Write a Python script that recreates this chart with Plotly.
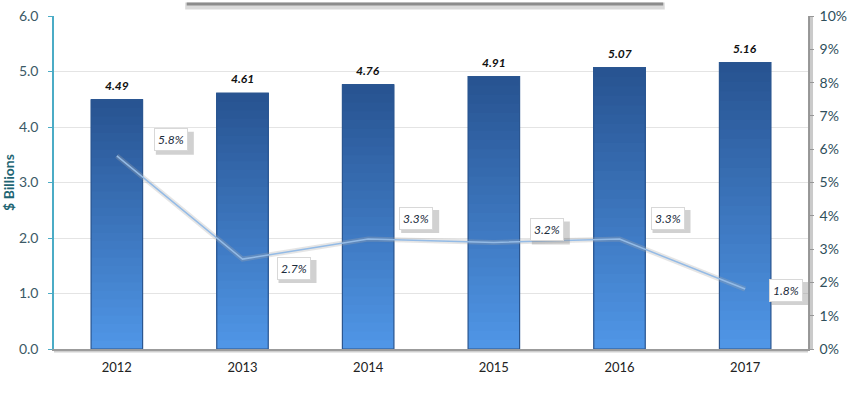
import plotly.graph_objects as go

years = ["2012", "2013", "2014", "2015", "2016", "2017"]
spend = [4.49, 4.61, 4.76, 4.91, 5.07, 5.16]
growth = [5.8, 2.7, 3.3, 3.2, 3.3, 1.8]
growth_labels = ["5.8%", "2.7%", "3.3%", "3.2%", "3.3%", "1.8%"]
spend_labels = ["4.49", "4.61", "4.76", "4.91", "5.07", "5.16"]
left_ticks = [0, 1, 2, 3, 4, 5, 6]
right_ticks = [0, 1, 2, 3, 4, 5, 6, 7, 8, 9, 10]
right_tick_text = ["0%", "1%", "2%", "3%", "4%", "5%", "6%", "7%", "8%", "9%", "10%"]

# label offsets (pixels) relative to each growth point
lab_dx = [54, 51, 48, 53, 48, 41]
lab_dy = [16, -9, 21, 13, 21, -1]

FONT = "Lato"
BW = 0.41
N = 30
top_c = (40, 84, 146)
bot_c = (80, 150, 230)
xs = list(range(len(years)))

fig = go.Figure()

# gradient bars: each slice spans from its base up to the bar top, drawn bottom-to-top
for k in range(N):
    t = k / (N - 1)
    c = tuple(int(bot_c[i] + (top_c[i] - bot_c[i]) * t) for i in range(3))
    fig.add_trace(go.Bar(
        x=xs, y=[v * (N - k) / N for v in spend], base=[v * k / N for v in spend],
        width=BW, marker=dict(color="rgb(%d,%d,%d)" % c, line=dict(width=0)),
        showlegend=False, hoverinfo="skip"))

# outline of bars
fig.add_trace(go.Bar(
    x=xs, y=spend, base=[0] * len(spend), width=BW,
    marker=dict(color="rgba(0,0,0,0)", line=dict(color="#2b5690", width=1.2)),
    showlegend=False, hoverinfo="skip"))

# growth line shadow + line
fig.add_trace(go.Scatter(
    x=xs, y=growth, yaxis="y2", mode="lines",
    line=dict(color="rgba(170,170,170,0.3)", width=5),
    showlegend=False, hoverinfo="skip"))
fig.add_trace(go.Scatter(
    x=xs, y=growth, yaxis="y2", mode="lines",
    line=dict(color="#94bbe6", width=1.5),
    showlegend=False))

ann = []
shapes = []
for xi, v, s in zip(xs, spend, spend_labels):
    ann.append(dict(x=xi, y=v, xref="x", yref="y", text="<b><i>%s</i></b>" % s,
                    showarrow=False, yanchor="bottom", yshift=5,
                    font=dict(family=FONT, size=12, color="#111111")))
for xi, g, s, dx, dy in zip(xs, growth, growth_labels, lab_dx, lab_dy):
    # drop shadow behind each label box
    shapes.append(dict(type="rect", xref="x", yref="y2",
                       xsizemode="pixel", ysizemode="pixel",
                       xanchor=xi, yanchor=g,
                       x0=dx - 15, x1=dx + 23, y0=dy - 15, y1=dy + 8,
                       fillcolor="rgba(140,140,140,0.4)", line=dict(width=0),
                       layer="above"))
    ann.append(dict(x=xi, y=g, xref="x", yref="y2", text="<i>%s</i>" % s,
                    showarrow=False, xshift=dx, yshift=dy,
                    bgcolor="white", bordercolor="#d8d8d8", borderwidth=1, borderpad=3,
                    font=dict(family=FONT, size=12, color="#1c2c3c")))

shapes += [
    dict(type="line", xref="paper", yref="paper", x0=0.174, x1=0.810, y0=1.030, y1=1.030,
         line=dict(color="rgba(150,150,150,0.35)", width=7)),
    dict(type="line", xref="paper", yref="paper", x0=0.176, x1=0.808, y0=1.036, y1=1.036,
         line=dict(color="#8c8c8c", width=3)),
    dict(type="line", xref="paper", yref="paper", x0=1.004, x1=1.004, y0=0, y1=1,
         line=dict(color="rgba(150,150,150,0.5)", width=4)),
    dict(type="line", xref="paper", yref="paper", x0=0, x1=1, y0=-0.006, y1=-0.006,
         line=dict(color="rgba(160,160,160,0.5)", width=3)),
]

fig.update_layout(
    width=849, height=399,
    margin=dict(l=54, r=41, t=16, b=50, autoexpand=False),
    paper_bgcolor="white", plot_bgcolor="white",
    barmode="overlay",
    font=dict(family=FONT),
    xaxis=dict(range=[-0.5, 5.5], tickvals=xs, ticktext=years, automargin=False,
               showline=True, linecolor="#9a9a9a", linewidth=1.5,
               ticks="", ticklabelstandoff=6,
               tickfont=dict(family=FONT, size=13, color="#222222"),
               showgrid=False, zeroline=False),
    yaxis=dict(range=[0, 6], tickvals=left_ticks, tickformat=".1f", automargin=False,
               showline=True, linecolor="#4bacc6", linewidth=1.5,
               ticks="outside", ticklen=4, tickcolor="#4bacc6",
               ticklabelstandoff=7, ticklabeloverflow="allow",
               gridcolor="#e4e4e4", gridwidth=1,
               tickfont=dict(family=FONT, size=14, color="#3b5966"),
               title=dict(text="<b>$ Billions</b>", standoff=5,
                          font=dict(family=FONT, size=14, color="#1e6573")),
               zeroline=False),
    yaxis2=dict(range=[0, 10], tickmode="array", tickvals=right_ticks,
                ticktext=right_tick_text, automargin=False,
                overlaying="y", side="right", showline=True, linecolor="#999999",
                linewidth=1.5, ticks="outside", ticklen=4, tickcolor="#999999",
                ticklabelstandoff=3, ticklabeloverflow="allow",
                showgrid=False, zeroline=False,
                tickfont=dict(family=FONT, size=14, color="#2f4f5c")),
    annotations=ann,
    shapes=shapes,
)

fig.write_html("out.html", config={"displayModeBar": False},
               post_script="document.body.style.margin='0px';")
